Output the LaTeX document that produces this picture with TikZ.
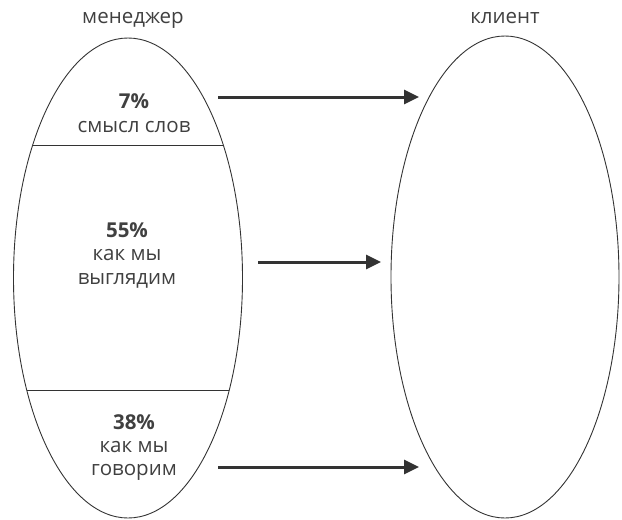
\documentclass[tikz,border=0pt]{standalone}
\usepackage{fontspec}
\setmainfont{Open Sans}
\usetikzlibrary{shapes.geometric,arrows.meta}
\definecolor{txt}{HTML}{404040}
\definecolor{ln}{HTML}{333333}
\tikzset{
  oval/.style={draw=ln,line width=0.9pt,ellipse,inner sep=0pt},
  lbl/.style={text=txt,font=\fontsize{20.5}{23.5}\selectfont,align=center,inner sep=0pt},
  pct/.style={lbl,font=\fontsize{20.5}{23.5}\selectfont\bfseries},
  arr/.style={draw=ln,line width=3pt,-{Triangle[length=15pt,width=14pt]}},
  divider/.style={draw=ln,line width=0.9pt}
}
\begin{document}
\begin{tikzpicture}[x=1pt,y=-1pt]
\useasboundingbox (0,0) rectangle (622,520);
\node[oval,minimum width=229pt,minimum height=480pt] (L) at (128,278) {};
\node[oval,minimum width=228pt,minimum height=482pt] (R) at (505,277) {};
\begin{scope}
  \clip (128,278) ellipse [x radius=114.5, y radius=240];
  \coordinate (d1a) at (0,145); \coordinate (d1b) at (300,145);
  \coordinate (d2a) at (0,390); \coordinate (d2b) at (300,390);
  \draw[divider] (d1a) -- (d1b);
  \draw[divider] (d2a) -- (d2b);
\end{scope}
\node[lbl] (mgr) at (133,20) {менеджер};
\node[lbl] (cli) at (505,18) {клиент};
\node[pct] (p7) at (134,101) {7\%};
\node[lbl] (t7) at (134,127) {смысл слов};
\node[pct] (p55) at (127,230) {55\%};
\node[lbl] (t55) at (127,269) {как мы\\выглядим};
\node[pct] (p38) at (134,422) {38\%};
\node[lbl] (t38) at (134,461) {как мы\\говорим};
\coordinate (a1s) at (218,97); \coordinate (a1e) at (419,97);
\coordinate (a2s) at (258,262); \coordinate (a2e) at (381,262);
\coordinate (a3s) at (218,467); \coordinate (a3e) at (419,467);
\draw[arr] (a1s) -- (a1e);
\draw[arr] (a2s) -- (a2e);
\draw[arr] (a3s) -- (a3e);
\end{tikzpicture}
\end{document}
